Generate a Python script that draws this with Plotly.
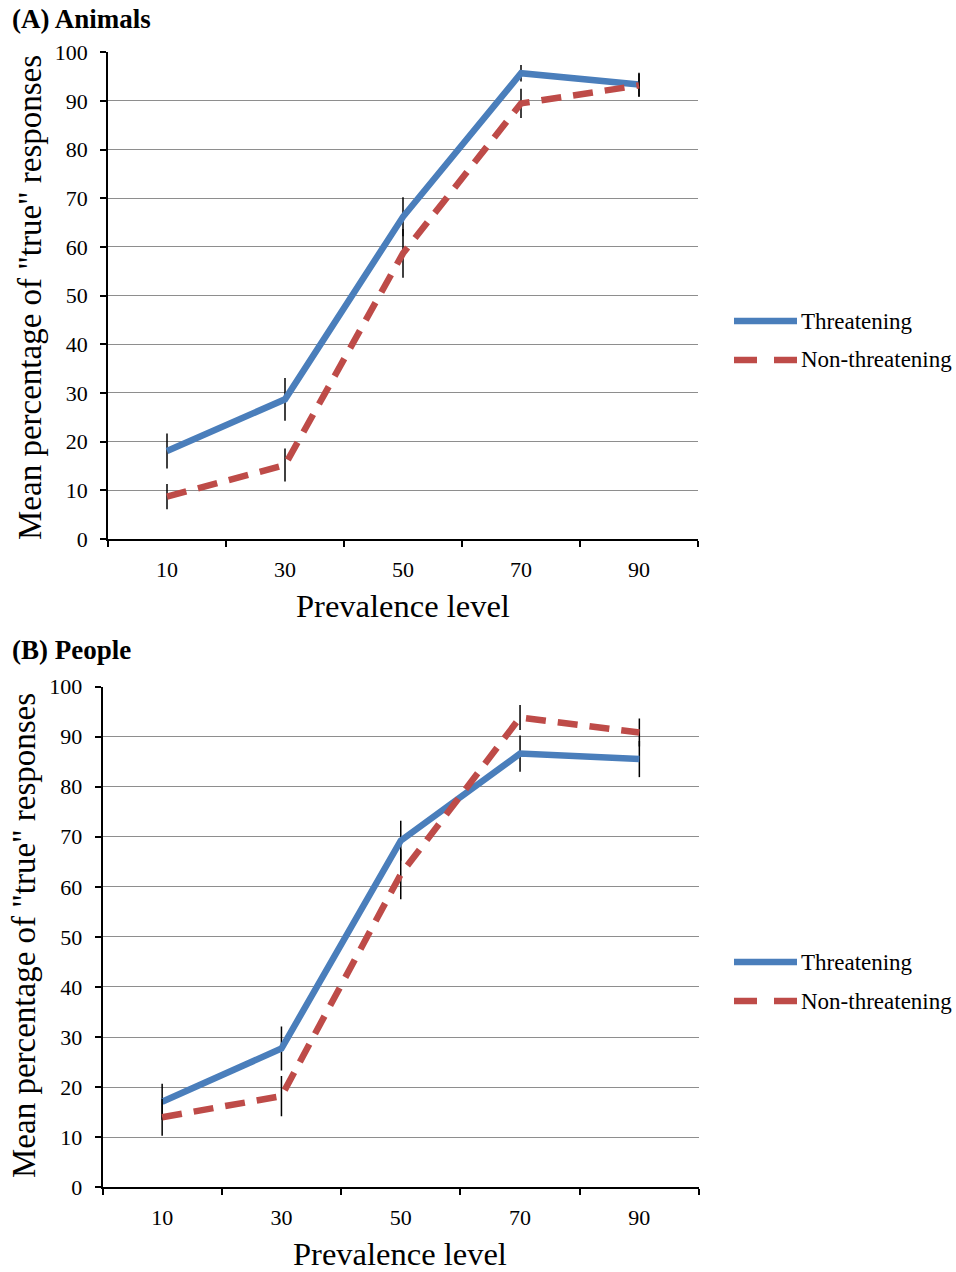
import plotly.graph_objects as go

# Prevalence levels (categories on the x axis)
prevalence = ["10", "30", "50", "70", "90"]

# (A) Animals: mean % of "true" responses and error bars
animals_threat = [18.1, 28.7, 66.2, 95.7, 93.4]
animals_threat_err = [3.6, 4.4, 4.0, 1.7, 2.4]
animals_nonthreat = [8.7, 15.2, 58.7, 89.5, 93.2]
animals_nonthreat_err = [2.6, 3.4, 5.0, 3.0, 2.4]

# (B) People
people_threat = [17.1, 27.7, 69.2, 86.6, 85.5]
people_threat_err = [3.6, 4.4, 4.0, 3.6, 3.6]
people_nonthreat = [14.0, 18.2, 62.5, 93.8, 90.8]
people_nonthreat_err = [3.7, 4.0, 5.0, 2.5, 2.8]

series_names = ["Threatening", "Non-threatening"]

W, H = 956, 1272
BLUE = "#4A7EBB"
RED = "#BE4B48"
FONT = "Liberation Serif"


def px(x):
    return x / W


def py(y):
    return 1 - y / H


fig = go.Figure()


def add_panel(xa, ya, threat, threat_err, nonthreat, nonthreat_err):
    err_style = dict(type="data", thickness=1.5, width=0, color="black", visible=True)
    fig.add_trace(go.Scatter(
        x=prevalence, y=threat, mode="lines", name=series_names[0],
        line=dict(color=BLUE, width=6.5),
        error_y=dict(array=threat_err, **err_style),
        xaxis=xa, yaxis=ya, showlegend=False,
    ))
    fig.add_trace(go.Scatter(
        x=prevalence, y=nonthreat, mode="lines", name=series_names[1],
        line=dict(color=RED, width=6.5, dash="20px,12px"),
        error_y=dict(array=nonthreat_err, **err_style),
        xaxis=xa, yaxis=ya, showlegend=False,
    ))


add_panel("x", "y", animals_threat, animals_threat_err,
          animals_nonthreat, animals_nonthreat_err)
add_panel("x2", "y2", people_threat, people_threat_err,
          people_nonthreat, people_nonthreat_err)

xaxis_style = dict(
    type="category", tickson="boundaries", range=[-0.5, 4.5],
    showline=True, linecolor="black", linewidth=1.5,
    ticks="outside", ticklen=6, tickwidth=1.5, tickcolor="black",
    ticklabelstandoff=10,
    showgrid=False, zeroline=False, automargin=False,
    tickfont=dict(family=FONT, size=22, color="black"),
    fixedrange=True,
)
yaxis_style = dict(
    range=[0, 100], dtick=10, tick0=0,
    showline=True, linecolor="black", linewidth=1.5,
    ticks="outside", ticklen=6, tickwidth=1.5, tickcolor="black",
    ticklabelstandoff=8,
    showgrid=True, gridcolor="#8e8e8e", gridwidth=1.3,
    zeroline=False, automargin=False,
    tickfont=dict(family=FONT, size=22, color="black"),
    fixedrange=True,
)

fig.update_layout(
    width=W, height=H, autosize=False,
    margin=dict(l=0, r=0, t=0, b=0, pad=0, autoexpand=False),
    paper_bgcolor="white", plot_bgcolor="white",
    showlegend=False,
    xaxis=dict(domain=[px(108), px(698)], anchor="y", **xaxis_style),
    yaxis=dict(domain=[py(539), py(52.3)], anchor="x", **yaxis_style),
    xaxis2=dict(domain=[px(102.5), px(699)], anchor="y2", **xaxis_style),
    yaxis2=dict(domain=[py(1187.3), py(686.5)], anchor="x2", **yaxis_style),
)

annotations = []
shapes = []


def text(x, y, s, size, bold=False, angle=0, xanchor="center"):
    annotations.append(dict(
        x=px(x), y=py(y), xref="paper", yref="paper",
        text=f"<b>{s}</b>" if bold else s, showarrow=False,
        textangle=angle, xanchor=xanchor, yanchor="middle",
        font=dict(family=FONT, size=size, color="black"),
    ))


# Panel titles
text(10, 19, "(A) Animals", 27, bold=True, xanchor="left")
text(10, 650, "(B) People", 27, bold=True, xanchor="left")

# Axis titles
text(403, 606, "Prevalence level", 32.5)
text(400, 1254, "Prevalence level", 32.5)
ytitle = 'Mean percentage of "true" responses'
text(30, 298, ytitle, 33, angle=-90)
text(24, 936, ytitle, 33, angle=-90)


# Legends
def legend(y_top, y_bot):
    shapes.append(dict(type="line", xref="paper", yref="paper",
                       x0=px(734), x1=px(797), y0=py(y_top), y1=py(y_top),
                       line=dict(color=BLUE, width=6.5)))
    for x0, x1 in [(734, 757), (774, 797)]:
        shapes.append(dict(type="line", xref="paper", yref="paper",
                           x0=px(x0), x1=px(x1), y0=py(y_bot), y1=py(y_bot),
                           line=dict(color=RED, width=6.5)))
    text(799, y_top, series_names[0], 23, xanchor="left")
    text(799, y_bot, series_names[1], 23, xanchor="left")


legend(321, 360)
legend(962, 1001)

fig.update_layout(annotations=annotations, shapes=shapes)

fig.write_html("out.html")
